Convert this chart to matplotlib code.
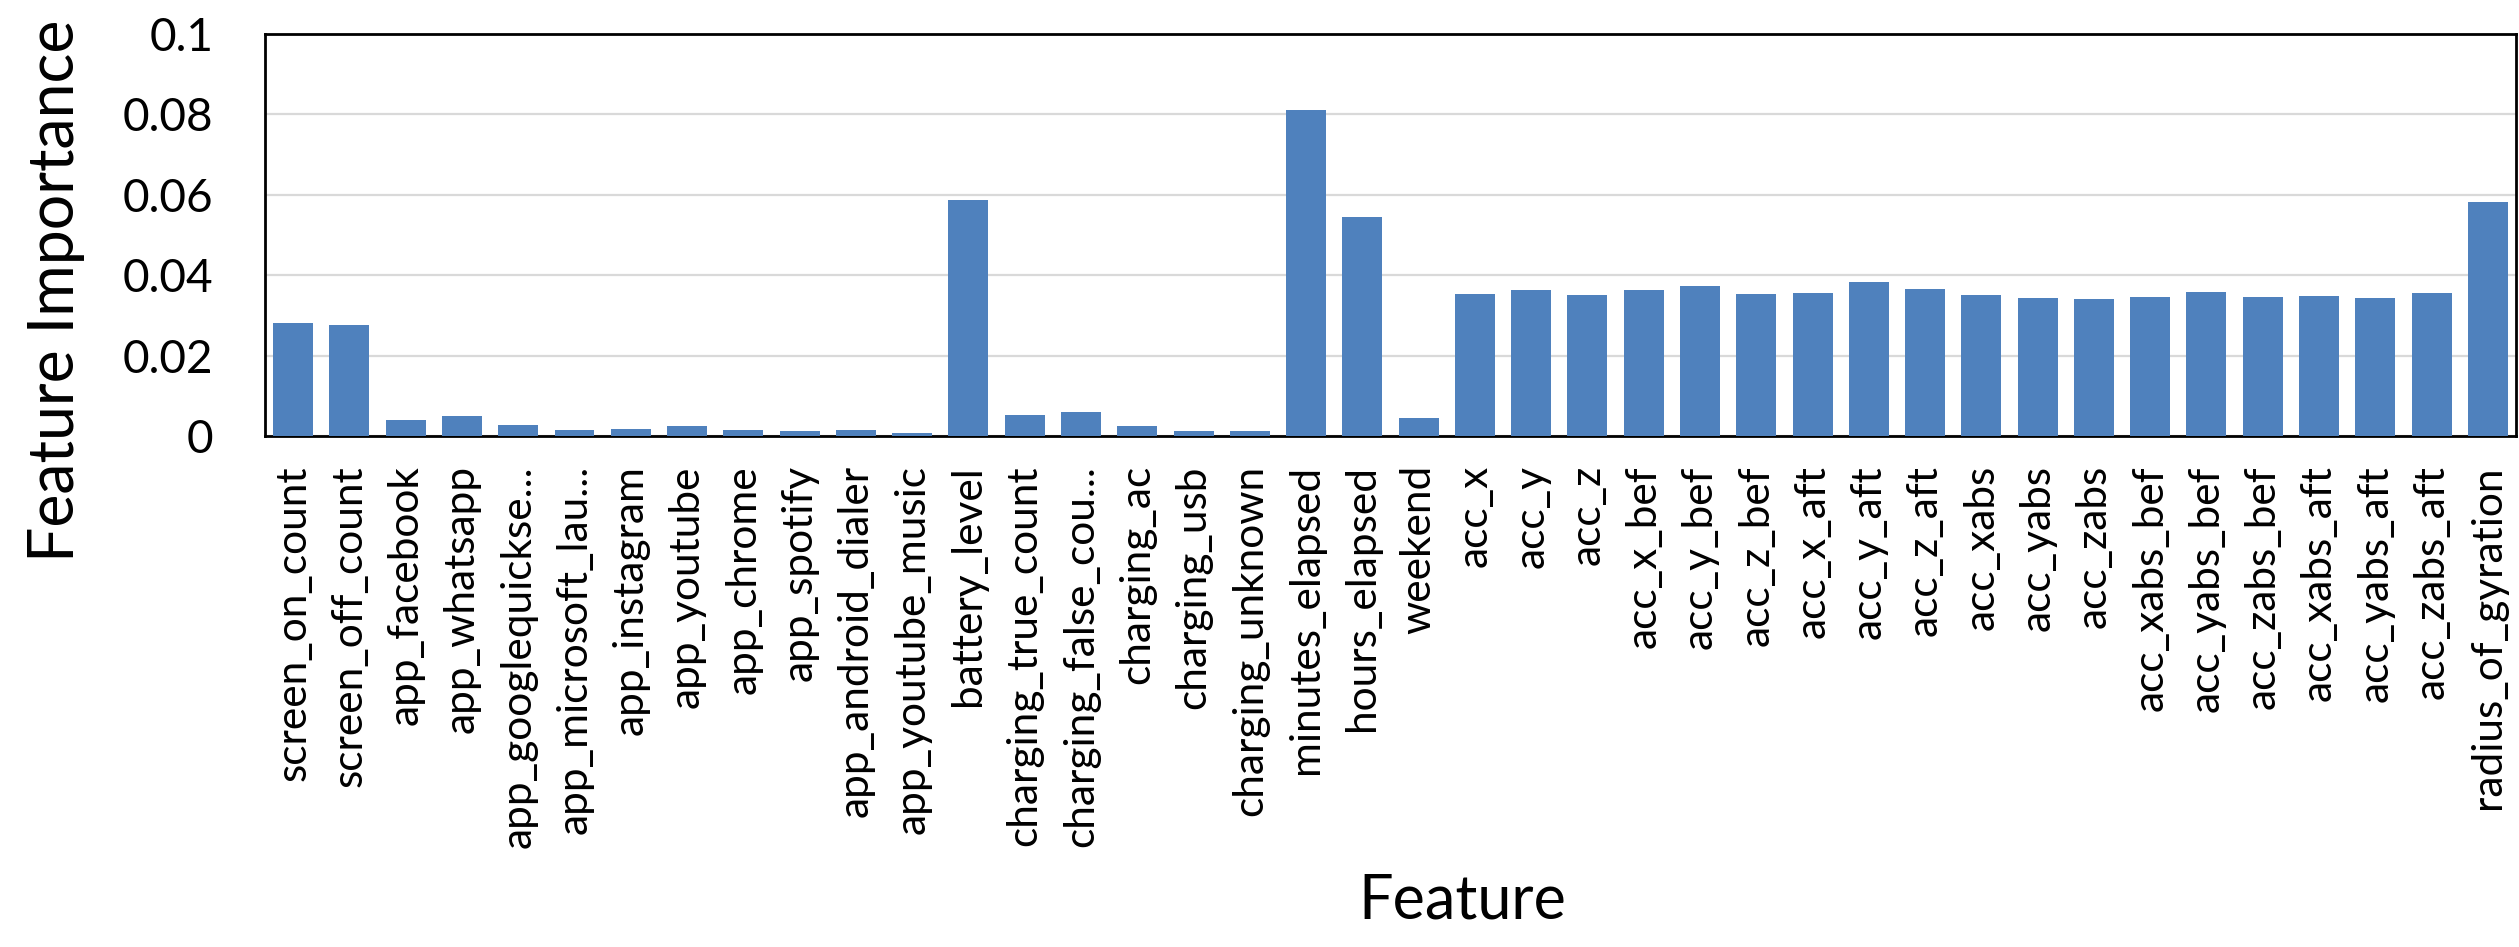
import matplotlib
matplotlib.use("Agg")
import matplotlib.pyplot as plt

features = [
    "screen_on_count", "screen_off_count", "app_facebook", "app_whatsapp",
    "app_googlequickse...", "app_microsoft_lau...", "app_instagram", "app_youtube",
    "app_chrome", "app_spotify", "app_android_dialer", "app_youtube_music",
    "battery_level", "charging_true_count", "charging_false_cou...", "charging_ac",
    "charging_usb", "charging_unknown", "minutes_elapsed", "hours_elapsed",
    "weekend", "acc_x", "acc_y", "acc_z", "acc_x_bef", "acc_y_bef", "acc_z_bef",
    "acc_x_aft", "acc_y_aft", "acc_z_aft", "acc_xabs", "acc_yabs", "acc_zabs",
    "acc_xabs_bef", "acc_yabs_bef", "acc_zabs_bef", "acc_xabs_aft", "acc_yabs_aft",
    "acc_zabs_aft", "radius_of_gyration",
]
importance = [
    0.0280, 0.0277, 0.0039, 0.0050, 0.0027, 0.0014, 0.0017, 0.0025,
    0.0014, 0.0012, 0.0014, 0.0007, 0.0588, 0.0051, 0.0059, 0.0026,
    0.0012, 0.0012, 0.0811, 0.0546, 0.0044, 0.0354, 0.0364, 0.0351,
    0.0363, 0.0372, 0.0353, 0.0356, 0.0383, 0.0366, 0.0351, 0.0344,
    0.0341, 0.0346, 0.0358, 0.0346, 0.0349, 0.0344, 0.0356, 0.0582,
]
yticks = [0, 0.02, 0.04, 0.06, 0.08, 0.1]
ytick_labels = ["0", "0.02", "0.04", "0.06", "0.08", "0.1"]

plt.rcParams["font.family"] = ["Lato", "DejaVu Sans"]

fig = plt.figure(figsize=(25.19, 9.47), dpi=100)
ax = fig.add_axes([0.1052, 0.5396, 0.8936, 0.4245])

x = range(len(features))
ax.bar(x, importance, width=0.71, color="#4f81bd", zorder=3)

ax.set_xlim(-0.5, len(features) - 0.5)
ax.set_ylim(0, 0.1)
ax.set_yticks(yticks)
ax.set_yticklabels(ytick_labels, fontsize=33)
ax.set_xticks(list(x))
ax.set_xticklabels(features, rotation=90, fontsize=30.5, va="top", ha="center")
ax.tick_params(axis="both", length=0)
ax.tick_params(axis="y", pad=37)
ax.tick_params(axis="x", pad=21)

ax.grid(axis="y", color="#d9d9d9", linewidth=1.6, zorder=0)
for s in ax.spines.values():
    s.set_linewidth(2.0)
    s.set_color("black")

ax.set_ylabel("Feature Importance", fontsize=45)
ax.yaxis.set_label_coords(-0.080, 0.361)
ax.set_xlabel("Feature", fontsize=44)
ax.xaxis.set_label_coords(0.532, -1.085)

fig.savefig("out.png", dpi=100)
